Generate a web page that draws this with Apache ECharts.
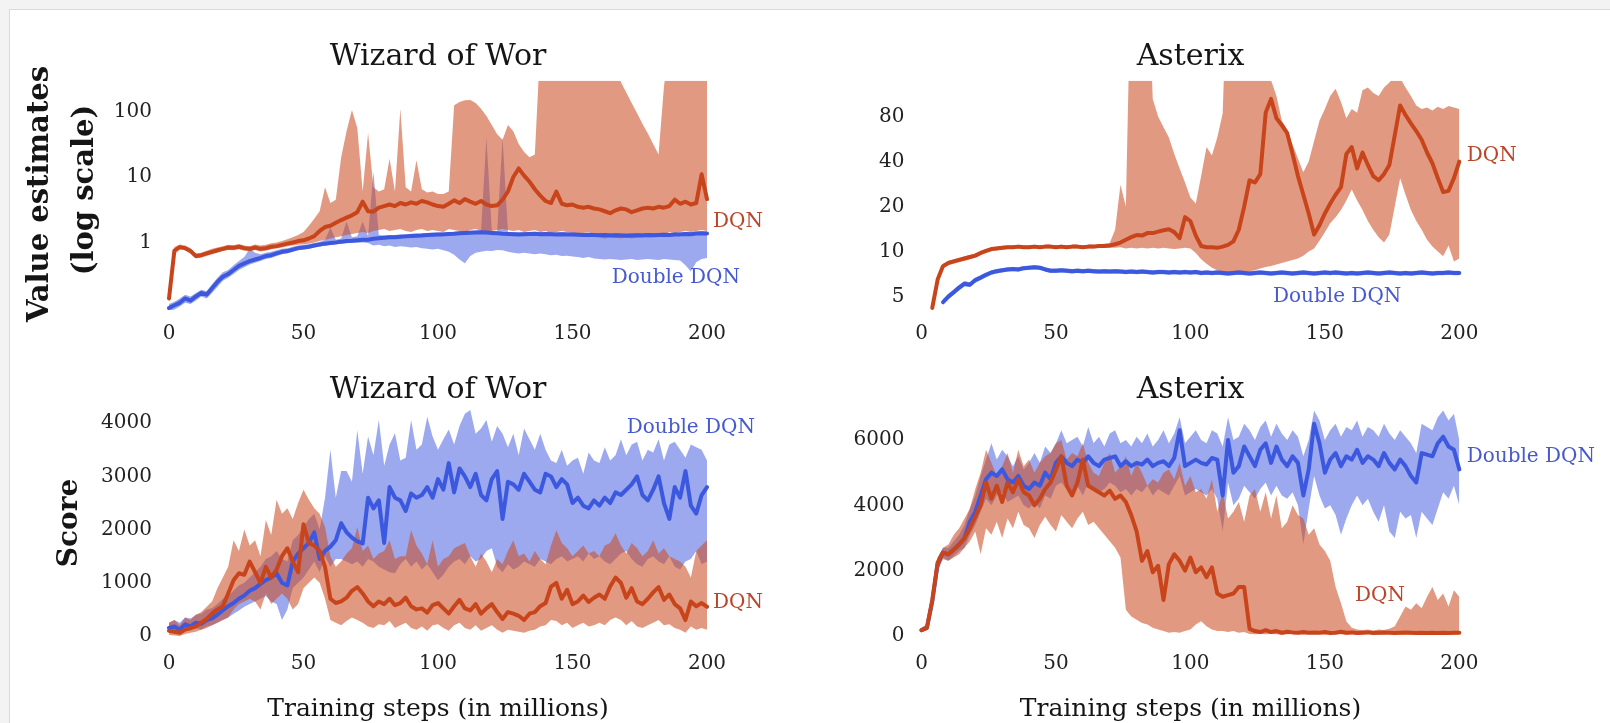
<!DOCTYPE html>
<html><head><meta charset="utf-8">
<script src="https://cdn.jsdelivr.net/npm/echarts@6.0.0/dist/echarts.min.js"></script>
<style>html,body{margin:0;padding:0;background:#f3f3f3;} #c{width:1610px;height:723px;}</style>
</head><body><div id="c"></div>
<script>
// ---------------- data ----------------
const steps = [0,2,4,6,8,10,12,14,16,18,20,22,24,26,28,30,32,34,36,38,40,42,44,46,48,50,52,54,56,58,60,62,64,66,68,70,72,74,76,78,80,82,84,86,88,90,92,94,96,98,100,102,104,106,108,110,112,114,116,118,120,122,124,126,128,130,132,134,136,138,140,142,144,146,148,150,152,154,156,158,160,162,164,166,168,170,172,174,176,178,180,182,184,186,188,190,192,194,196,198,200];
const xTicks = [0,50,100,150,200];
const wizValTicks = [1,10,100];
const astValTicks = [5,10,20,40,80];
const wizScoreTicks = [0,1000,2000,3000,4000];
const astScoreTicks = [0,2000,4000,6000];
const panelTitles = ['Wizard of Wor','Asterix','Wizard of Wor','Asterix'];

// Wizard of Wor – value estimates (log scale)
const wizValDqn = [0.14,0.75,0.85,0.82,0.74,0.62,0.64,0.68,0.72,0.76,
0.80,0.84,0.83,0.86,0.82,0.80,0.84,0.80,0.82,0.86,
0.88,0.92,0.96,1.00,1.05,1.08,1.15,1.25,1.50,1.72,
1.80,2.00,2.20,2.40,2.60,2.90,4.20,3.00,2.95,3.40,
3.60,3.80,3.60,4.00,3.80,4.10,3.90,4.30,4.10,3.80,
3.60,3.50,3.90,4.40,4.00,4.60,4.20,3.90,4.30,3.80,
3.60,3.70,4.50,6.00,10.0,13.5,10.5,8.50,6.50,5.20,
4.30,4.00,6.00,3.90,3.70,3.80,3.50,3.40,3.50,3.30,
3.20,3.00,2.80,3.10,3.30,3.20,2.90,3.10,3.30,3.40,
3.30,3.50,3.40,3.60,4.50,3.90,4.20,3.80,4.00,11.0,
4.60];
const wizValDqnLo = [0.12,0.66,0.78,0.76,0.68,0.57,0.59,0.62,0.66,0.70,
0.74,0.77,0.76,0.79,0.75,0.73,0.77,0.73,0.75,0.79,
0.81,0.84,0.88,0.90,0.92,0.94,0.96,1.00,1.05,1.10,
1.15,1.20,1.25,1.30,1.35,1.40,1.45,1.40,1.50,1.55,
1.60,1.50,1.55,1.60,1.50,1.45,1.55,1.60,1.50,1.55,
1.50,1.45,1.60,1.55,1.50,1.45,1.55,1.60,1.50,1.45,
1.50,1.55,1.60,1.55,1.50,1.55,1.45,1.50,1.55,1.45,
1.50,1.40,1.45,1.50,1.45,1.40,1.35,1.40,1.45,1.35,
1.20,1.15,1.20,1.18,1.15,1.20,1.15,1.20,1.22,1.20,
1.20,1.22,1.25,1.45,1.40,1.45,1.50,1.45,1.50,1.55,
1.50];
const wizValDqnHi = [0.16,0.85,0.93,0.90,0.82,0.68,0.70,0.75,0.80,0.84,
0.88,0.92,0.91,0.95,0.90,0.88,0.93,0.90,0.92,0.97,
1.00,1.05,1.12,1.20,1.30,1.45,1.80,2.30,3.00,7.00,
4.00,4.50,20.0,50.0,105,56.0,6.00,47.0,7.00,6.00,
6.50,19.0,6.00,110,7.00,6.00,18.0,6.50,5.80,6.00,
5.50,5.50,6.00,125,140,148,150,135,110,85.0,
62.0,45.0,37.0,62.0,50.0,32.0,24.0,20.0,22.0,1000,
1000,1000,1000,1000,1000,1000,1000,1000,1000,1000,
1000,1000,1000,1000,280,194,135,94.0,65.0,46.0,
32.0,22.0,240,1000,1000,1000,1000,1000,1000,1000,
1000];
const wizValDdqn = [0.10,0.11,0.12,0.14,0.13,0.15,0.17,0.16,0.20,0.25,
0.30,0.33,0.38,0.44,0.48,0.52,0.55,0.58,0.62,0.64,
0.68,0.72,0.74,0.78,0.82,0.84,0.86,0.90,0.93,0.96,
0.98,1.00,1.03,1.05,1.06,1.08,1.10,1.10,1.14,1.16,
1.18,1.20,1.20,1.22,1.24,1.26,1.27,1.28,1.30,1.31,
1.32,1.33,1.35,1.36,1.38,1.40,1.41,1.42,1.43,1.42,
1.40,1.38,1.36,1.35,1.34,1.33,1.34,1.35,1.36,1.34,
1.35,1.34,1.33,1.34,1.33,1.32,1.31,1.30,1.31,1.30,
1.29,1.30,1.28,1.29,1.28,1.27,1.28,1.29,1.28,1.30,
1.29,1.30,1.31,1.30,1.32,1.33,1.35,1.34,1.37,1.38,
1.37];
const wizValDdqnLo = [0.090,0.095,0.105,0.12,0.115,0.13,0.15,0.14,0.17,0.21,
0.26,0.29,0.33,0.38,0.42,0.46,0.49,0.52,0.56,0.58,
0.62,0.66,0.68,0.72,0.76,0.78,0.80,0.84,0.87,0.90,
0.92,0.94,0.96,0.97,0.98,0.99,1.00,0.98,0.90,0.92,
0.88,0.90,0.85,0.88,0.86,0.84,0.85,0.82,0.80,0.78,
0.80,0.76,0.72,0.65,0.55,0.48,0.62,0.70,0.72,0.75,
0.74,0.77,0.76,0.72,0.70,0.68,0.70,0.68,0.66,0.68,
0.66,0.64,0.65,0.62,0.63,0.61,0.60,0.58,0.60,0.57,
0.56,0.55,0.56,0.55,0.54,0.55,0.56,0.54,0.55,0.56,
0.55,0.54,0.56,0.55,0.54,0.53,0.45,0.36,0.50,0.56,
0.58];
const wizValDdqnHi = [0.115,0.125,0.14,0.16,0.15,0.17,0.19,0.18,0.23,0.29,
0.35,0.38,0.45,0.52,0.60,0.80,0.70,0.66,0.70,0.72,
0.76,0.80,0.82,0.86,0.90,0.92,0.94,0.98,1.02,1.10,
1.70,1.10,1.15,2.10,1.20,1.25,2.10,1.25,12.0,1.30,
1.28,1.30,1.30,1.32,1.34,1.36,1.37,1.38,1.40,1.41,
1.42,1.43,1.45,1.46,1.48,1.50,1.51,1.52,1.53,40.0,
1.50,1.48,40.0,1.45,1.44,1.43,1.44,1.45,1.46,1.44,
1.45,1.44,1.43,1.44,1.43,1.42,1.41,1.40,1.41,1.40,
1.39,1.40,1.38,1.39,1.38,1.37,1.38,1.39,1.38,1.40,
1.39,1.40,1.41,1.40,1.42,1.43,1.45,1.44,1.47,1.48,
1.47];

// Asterix – value estimates (log scale)
const astValDqn = [null,null,4.2,6.5,8.0,8.4,8.6,8.8,9.0,9.2,
9.4,9.8,10.1,10.4,10.5,10.6,10.7,10.7,10.8,10.7,
10.7,10.8,10.7,10.8,10.8,10.7,10.8,10.7,10.8,10.8,
10.7,10.8,10.8,10.9,10.9,11.0,11.2,11.5,12.0,12.5,
12.9,12.8,13.3,13.3,13.6,13.9,14.1,13.5,12.3,17.0,
16.0,12.8,10.9,10.7,10.7,10.6,10.8,11.1,11.7,14.0,
20.0,30.0,29.0,33.0,85.0,105,78.0,70.0,62.0,45.0,
32.0,24.0,18.0,13.0,15.0,18.0,21.0,24.0,27.0,45.0,
50.0,36.0,46.0,38.0,32.0,30.0,33.0,38.0,60.0,95.0,
82.0,72.0,64.0,56.0,46.0,39.0,31.0,25.0,25.5,31.0,
40.0];
const astValDqnLo = [null,null,4.1,6.2,7.7,8.1,8.3,8.5,8.7,8.9,
9.1,9.5,9.8,10.1,10.2,10.3,10.4,10.4,10.5,10.4,
10.4,10.5,10.4,10.5,10.5,10.4,10.5,10.4,10.5,10.5,
10.4,10.5,10.5,10.6,10.6,10.6,10.6,10.7,10.5,10.6,
10.5,10.6,10.5,10.6,10.5,10.6,10.5,10.4,10.5,10.6,
10.5,9.8,8.9,8.3,7.8,7.5,7.3,7.2,7.2,7.3,
7.35,7.4,7.5,7.7,7.9,8.0,8.2,8.4,8.6,8.8,
9.0,9.4,10.0,10.5,11.8,13.5,15.5,17.0,19.0,22.0,
26.0,22.0,19.0,16.0,14.0,12.5,11.5,13.0,20.0,31.0,
24.0,19.0,16.0,14.0,12.0,10.8,10.0,9.3,11.0,8.6,
9.0];
const astValDqnHi = [null,null,4.4,6.8,8.3,8.7,8.9,9.1,9.3,9.5,
9.7,10.1,10.4,10.7,10.8,10.9,11.0,11.0,11.1,11.0,
11.0,11.1,11.0,11.1,11.1,11.0,11.1,11.0,11.1,11.1,
11.0,11.1,11.1,11.2,11.3,11.4,14.0,28.0,20.0,1000,
1000,1000,1000,105,80.0,68.0,58.0,45.0,36.0,29.0,
23.0,21.0,32.0,50.0,44.0,58.0,84.0,1000,1000,1000,
1000,1000,1000,1000,1000,140,110,75.0,65.0,52.0,
42.0,34.0,40.0,55.0,75.0,90.0,110,123,100,78.0,
90.0,85.0,120,125,115,110,125,135,150,145,
125,110,95.0,90.0,92.0,88.0,93.0,90.0,94.0,92.0,
90.0];
const astValDdqn = [null,null,null,null,4.6,5.0,5.35,5.75,6.1,6.0,
6.45,6.7,7.0,7.25,7.4,7.5,7.6,7.65,7.6,7.75,
7.8,7.85,7.8,7.6,7.45,7.45,7.5,7.45,7.4,7.45,
7.4,7.45,7.4,7.35,7.4,7.35,7.4,7.35,7.3,7.35,
7.3,7.35,7.3,7.25,7.3,7.3,7.25,7.3,7.25,7.3,
7.25,7.3,7.2,7.25,7.2,7.25,7.2,7.15,7.2,7.25,
7.2,7.15,7.2,7.25,7.2,7.15,7.2,7.25,7.2,7.15,
7.2,7.25,7.2,7.15,7.2,7.25,7.2,7.25,7.2,7.15,
7.2,7.15,7.2,7.25,7.2,7.15,7.2,7.25,7.2,7.15,
7.2,7.15,7.2,7.25,7.2,7.15,7.2,7.2,7.25,7.2,
7.2];
const astValDdqnLo = [null,null,null,null,4.4,4.8,5.15,5.5,5.85,5.8,
6.2,6.45,6.75,7.0,7.15,7.25,7.35,7.4,7.35,7.5,
7.55,7.6,7.55,7.35,7.2,7.2,7.25,7.2,7.15,7.2,
7.15,7.2,7.15,7.1,7.15,7.1,7.15,7.1,7.05,7.1,
7.05,7.1,7.05,7.0,7.05,7.05,7.0,7.05,7.0,7.05,
7.0,7.05,6.95,7.0,6.95,7.0,6.95,6.9,6.95,7.0,
6.95,6.9,6.95,7.0,6.95,6.9,6.95,7.0,6.95,6.9,
6.95,7.0,6.95,6.9,6.95,7.0,6.95,7.0,6.95,6.9,
6.95,6.9,6.95,7.0,6.95,6.9,6.95,7.0,6.95,6.9,
6.95,6.9,6.95,7.0,6.95,6.9,6.95,6.95,7.0,6.95,
6.95];
const astValDdqnHi = [null,null,null,null,4.8,5.25,5.6,6.0,6.35,6.25,
6.7,6.95,7.25,7.5,7.65,7.75,7.85,7.9,7.85,8.0,
8.05,8.1,8.05,7.85,7.7,7.7,7.75,7.7,7.65,7.7,
7.65,7.7,7.65,7.6,7.65,7.6,7.65,7.6,7.55,7.6,
7.55,7.6,7.55,7.5,7.55,7.55,7.5,7.55,7.5,7.55,
7.5,7.55,7.45,7.5,7.45,7.5,7.45,7.4,7.45,7.5,
7.45,7.4,7.45,7.5,7.45,7.4,7.45,7.5,7.45,7.4,
7.45,7.5,7.45,7.4,7.45,7.5,7.45,7.5,7.45,7.4,
7.45,7.4,7.45,7.5,7.45,7.4,7.45,7.5,7.45,7.4,
7.45,7.4,7.45,7.5,7.45,7.4,7.45,7.45,7.5,7.45,
7.45];

// Wizard of Wor – score
const wizScoreDdqn = [150,180,120,220,180,250,230,300,330,400,
480,560,620,700,760,850,900,980,1050,1100,
1180,1000,950,1400,1550,1650,1750,1950,1450,1600,
1680,1800,2120,1950,1850,1780,1740,2600,2400,2550,
1750,2800,2600,2550,2350,2680,2600,2650,2800,2600,
2950,2750,3250,2700,3150,3000,2800,3050,2650,2550,
2950,3100,2200,2900,2850,2750,3050,2900,2750,2700,
3050,3000,2800,2950,2850,2500,2600,2450,2400,2550,
2450,2600,2500,2700,2650,2750,2850,3000,2650,2550,
2750,3000,2500,2200,2800,2600,3100,2450,2300,2650,
2800];
const wizScoreDdqnLo = [80,100,60,120,100,150,120,180,200,250,
300,350,420,480,550,600,650,700,750,650,
600,300,500,900,1000,1100,1250,1400,1200,1500,
1300,1450,1450,1400,1350,1400,1300,1450,1400,1300,
1250,1200,1180,1350,1450,1300,1400,1250,1350,1200,
1050,1150,1300,1400,1450,1350,1500,1400,1450,1600,
1650,1300,1200,1350,1250,1300,1400,1350,1300,1450,
1400,1350,1450,1500,1400,1450,1500,1400,1550,1450,
1500,1400,1350,1450,1550,1600,1450,1350,1300,1450,
1500,1400,1350,1500,1300,1250,1400,1450,1600,1350,
1400];
const wizScoreDdqnHi = [250,300,250,350,330,400,420,500,520,600,
700,750,850,950,1000,1100,1200,1300,1450,1500,
1600,1450,1400,1800,1900,2050,2200,2300,2000,2600,
3500,2600,3100,3100,2900,3870,3050,3750,3400,4060,
3200,3600,3810,3300,3350,4060,3500,3600,4120,3750,
3500,3700,3880,3600,3950,4180,4250,3800,3900,4060,
3650,3950,3800,3550,3800,3400,3900,3700,3500,3800,
3500,3300,3250,3500,3200,3300,3350,3050,3450,3300,
3250,3550,3300,3400,3700,3400,3600,3650,3300,3500,
3450,3700,3300,3600,3650,3500,3350,3600,3550,3500,
3300];
const wizScoreDqn = [100,80,60,120,150,180,250,320,420,500,
560,800,1050,1180,1150,1400,1200,1000,1300,1100,
1250,1500,1650,1400,1200,2100,1750,1700,1600,1300,
700,620,650,720,850,920,800,650,560,650,
600,700,580,620,720,560,500,520,440,580,
620,520,420,560,680,520,480,600,420,520,
600,450,320,450,420,380,300,420,450,560,
620,930,1000,700,870,600,650,760,640,720,
780,700,930,1100,1000,720,900,650,600,700,
820,920,680,780,600,520,300,650,560,620,
550];
const wizScoreDqnLo = [20,10,0,40,60,80,120,150,200,250,
300,350,500,600,650,700,650,500,800,600,
700,800,700,500,600,900,1000,1100,1000,700,
300,250,200,280,350,300,250,180,150,220,
200,280,150,200,250,150,120,180,100,200,
220,150,100,200,250,150,120,200,100,150,
200,120,60,120,100,80,60,100,120,180,
200,300,280,200,250,150,200,250,180,200,
250,200,300,350,300,200,280,180,150,200,
250,300,200,220,150,120,60,180,120,150,
120];
const wizScoreDqnHi = [250,300,200,350,300,400,450,550,650,900,
1100,1300,1800,1600,2000,1700,1800,1500,2180,1900,
2560,2300,2400,2200,2500,2750,2560,2400,2300,2050,
1500,1300,1400,1550,1650,2050,1600,1700,1450,1550,
1600,1800,1450,1500,1500,1990,1700,1550,1350,1800,
1300,1450,1500,1650,1700,1750,1500,1300,1550,1400,
1200,1450,1350,1600,1800,1500,1550,1400,1600,1450,
1350,1700,1990,1750,1650,1500,1600,1700,1550,1600,
1500,1700,1750,1930,1700,1550,1750,1650,1500,1600,
1800,1550,1650,1500,1450,1400,1300,1100,1600,1700,
1800];

// Asterix – score
const astScoreDqn = [180,250,1100,2250,2550,2500,2650,2800,3000,3300,
3650,4000,4700,4200,4600,4100,4700,4400,4800,4400,
4300,4000,4200,4500,4700,5100,5500,4600,4300,4700,
5400,4600,4500,4400,4300,4450,4200,4300,4100,3700,
3200,2300,2600,1950,2150,1100,2200,2500,2300,2000,
2400,1950,2100,1800,2100,1300,1200,1250,1300,1500,
1500,220,150,120,180,120,150,100,130,110,
100,120,100,110,100,120,90,100,130,100,
110,90,100,110,90,100,110,100,90,100,
110,100,90,100,95,100,90,100,95,100,
100];
const astScoreDqnLo = [120,180,900,2000,2350,2300,2400,2500,2700,2900,
3200,2500,3300,3100,3500,3000,3600,3300,3800,3400,
3300,3000,3400,3650,3400,3200,3700,3500,3300,3600,
3800,3400,3500,3300,3100,2900,2700,2400,800,600,
500,400,350,250,200,150,100,120,100,150,
200,350,450,300,200,150,150,120,150,100,
120,60,50,60,50,60,50,40,50,60,
50,40,50,60,50,40,50,60,50,40,
50,40,50,60,50,40,50,60,50,40,
50,40,50,60,50,40,50,60,50,40,
50];
const astScoreDqnHi = [250,350,1300,2400,2700,2800,3100,3300,3600,3900,
4500,5000,5700,5300,4900,5200,5600,5000,5700,5200,
5400,5000,5300,5500,5600,5900,6000,5400,5600,5500,
5900,5300,5000,4900,5300,5600,5000,5200,5500,4900,
5300,5000,4600,4800,4700,5000,5100,4800,5300,4600,
4900,4400,4500,4200,4800,3800,4400,3600,3800,4100,
3500,4300,4500,3800,4400,3600,4300,3300,3500,4000,
3700,3600,3100,3300,2800,2600,2300,1500,1000,450,
250,200,180,200,170,200,180,220,300,600,
900,800,1000,850,1200,1500,1100,1300,900,1400,
1200];
const astScoreDdqn = [180,250,1050,2200,2550,2500,2650,2800,3000,3500,
3800,4300,4800,5000,4900,5100,4800,4700,4900,4600,
4500,4700,4600,5000,4800,5300,5500,5300,5200,5400,
5300,5500,5300,5200,5400,5450,5500,5200,5350,5200,
5300,5250,5400,5200,5300,5350,5200,5450,6300,5200,
5300,5400,5300,5250,5450,5400,4300,6000,5000,5200,
5800,5500,5200,5700,5900,5300,5800,5400,5200,5500,
5300,4300,5100,6500,5900,5000,5400,5600,5200,5500,
5400,5700,5300,5500,5400,5200,5600,5300,5100,5400,
5200,4900,4700,5600,5550,5500,5900,6100,5800,5700,
5100];
const astScoreDdqnLo = [120,180,900,2000,2400,2300,2450,2600,2700,3100,
3400,3800,4200,4000,4300,4400,4100,4200,4300,4000,
3900,4100,3900,4300,4200,4600,4700,4500,4400,4600,
4300,4700,4500,4400,4500,4700,4600,4400,4500,4300,
4500,4400,4600,4300,4500,4400,4300,4600,4900,4300,
4400,4500,4400,4300,4500,4200,3200,4700,4000,4200,
4600,4400,4200,4500,4700,4300,4600,4300,4200,4400,
4000,2800,3900,4900,4300,3900,4000,3700,3100,3600,
4000,4300,4000,4200,3800,3500,4000,3200,3000,3800,
3600,3700,3000,3800,3600,3400,3900,4400,4200,4600,
4000];
const astScoreDdqnHi = [250,350,1300,2400,2700,2700,2900,3100,3400,3900,
4300,4900,5400,5900,5400,5700,5500,5200,5500,5100,
5300,5600,5300,5800,5600,5900,6300,5900,6000,6100,
5800,6400,5900,6100,5800,6200,6300,5900,6000,5800,
6100,5900,6200,5800,6000,6300,5900,6200,6700,5900,
6100,6300,6000,5900,6300,6200,5800,6700,6000,6100,
6500,6300,6000,6400,6600,6100,6500,6200,6000,6300,
6100,5500,6000,6900,6600,6000,6300,6500,6100,6400,
6300,6600,6100,6400,6300,6100,6500,6200,6000,6300,
6100,5900,5600,6500,6400,6300,6700,6900,6600,6800,
6000];

// ---------------- sanity ----------------
const allArrays = {wizValDqn,wizValDqnLo,wizValDqnHi,wizValDdqn,wizValDdqnLo,wizValDdqnHi,
  astValDqn,astValDqnLo,astValDqnHi,astValDdqn,astValDdqnLo,astValDdqnHi,
  wizScoreDdqn,wizScoreDdqnLo,wizScoreDdqnHi,wizScoreDqn,wizScoreDqnLo,wizScoreDqnHi,
  astScoreDqn,astScoreDqnLo,astScoreDqnHi,astScoreDdqn,astScoreDdqnLo,astScoreDdqnHi};
for (const k in allArrays) { if (allArrays[k].length !== steps.length) console.error('length mismatch', k, allArrays[k].length); }

// ---------------- style ----------------
const SERIF = '"DejaVu Serif", "Liberation Serif", serif';
const DQN_LINE = '#c8451b';
const DDQN_LINE = '#3c58de';
const DQN_FILL = 'rgba(204,76,36,0.57)';
const DDQN_FILL = 'rgba(66,90,222,0.52)';
const DQN_TEXT = '#b9452b';
const DDQN_TEXT = '#4759cf';
const TICK_COLOR = '#222';

const pairs = arr => steps.map((s, i) => [s, arr[i]]);

// shaded band between lo and hi, drawn as one polygon per continuous run,
// every vertex placed through the series' own axes (api.coord)
function band(id, idx, lo, hi, color, z) {
  let first = 0;
  while (first < steps.length && (lo[first] == null || hi[first] == null)) first++;
  return {
    type:'custom', name:id, xAxisIndex:idx.x, yAxisIndex:idx.y, z:z, silent:true, clip:true, animation:false,
    data: steps.map((s, i) => [s, lo[i], hi[i]]),
    encode: {x:0, y:[1, 2]},
    renderItem: function (params, api) {
      if (params.dataIndex !== first) return null;
      const polys = [];
      let top = [], bot = [];
      for (let i = 0; i < steps.length; i++) {
        if (lo[i] == null || hi[i] == null) {
          if (top.length > 1) polys.push(top.concat(bot.reverse()));
          top = []; bot = [];
          continue;
        }
        top.push(api.coord([steps[i], hi[i]]));
        bot.push(api.coord([steps[i], lo[i]]));
      }
      if (top.length > 1) polys.push(top.concat(bot.reverse()));
      const cs = params.coordSys;
      return {
        type:'group',
        clipPath: {type:'rect', shape:{x:cs.x, y:cs.y, width:cs.width, height:cs.height}},
        children: polys.map(pts => ({type:'polygon', shape:{points:pts}, style:{fill:color}}))
      };
    }
  };
}
function meanLine(id, idx, arr, color, z) {
  return {type:'line', name:id, xAxisIndex:idx.x, yAxisIndex:idx.y, data:pairs(arr), symbol:'none',
    lineStyle:{color:color, width:4, join:'round', cap:'round'}, silent:true, z:z, animation:false};
}

const grids = [
  {left:169, top:80.7, width:538, height:229.3},
  {left:921.5, top:80.7, width:537.8, height:229.3},
  {left:169, top:407.8, width:538, height:232.2},
  {left:921.5, top:405.7, width:537.8, height:234.2}
].map(g => Object.assign({containLabel:false, outerBoundsMode:'none', show:false}, g));

const hidden = {axisLine:{show:false}, axisTick:{show:false}, splitLine:{show:false}};
const labelStyle = {fontFamily:SERIF, fontSize:20, color:TICK_COLOR};

const xAxes = [0,1,2,3].map(i => Object.assign({
  gridIndex:i, type:'value', min:xTicks[0], max:xTicks[xTicks.length-1], interval:50,
  axisLabel:Object.assign({margin:14}, labelStyle)
}, hidden));

const wizLogMin = 0.0932, wizLogMax = 295;
const astLogMin = 4.07, astLogMax = 139;
const yAxes = [
  Object.assign({gridIndex:0, type:'log', logBase:10, min:wizLogMin, max:wizLogMax, axisLabel:{show:false}}, hidden),
  Object.assign({gridIndex:0, type:'value', position:'left', min:Math.log10(wizLogMin), max:Math.log10(wizLogMax),
    axisLabel:Object.assign({margin:17, customValues:wizValTicks.map(Math.log10),
      formatter:v => String(Math.round(Math.pow(10, v)))}, labelStyle)}, hidden),
  Object.assign({gridIndex:1, type:'log', logBase:2, min:astLogMin, max:astLogMax, axisLabel:{show:false}}, hidden),
  Object.assign({gridIndex:1, type:'value', position:'left', min:Math.log2(astLogMin), max:Math.log2(astLogMax),
    axisLabel:Object.assign({margin:17, customValues:astValTicks.map(Math.log2),
      formatter:v => String(Math.round(Math.pow(2, v)))}, labelStyle)}, hidden),
  Object.assign({gridIndex:2, type:'value', min:-75, max:4290,
    axisLabel:Object.assign({margin:17, customValues:wizScoreTicks, formatter:v => String(v)}, labelStyle)}, hidden),
  Object.assign({gridIndex:3, type:'value', min:-120, max:7050,
    axisLabel:Object.assign({margin:17, customValues:astScoreTicks, formatter:v => String(v)}, labelStyle)}, hidden)
];

const P = [{x:0,y:0},{x:1,y:2},{x:2,y:4},{x:3,y:5}];
const series = [
  band('wvB', P[0], wizValDdqnLo, wizValDdqnHi, DDQN_FILL, 1),
  band('wvR', P[0], wizValDqnLo, wizValDqnHi, DQN_FILL, 2),
  meanLine('wvBl', P[0], wizValDdqn, DDQN_LINE, 3), meanLine('wvRl', P[0], wizValDqn, DQN_LINE, 4),
  band('avB', P[1], astValDdqnLo, astValDdqnHi, DDQN_FILL, 1),
  band('avR', P[1], astValDqnLo, astValDqnHi, DQN_FILL, 2),
  meanLine('avBl', P[1], astValDdqn, DDQN_LINE, 3), meanLine('avRl', P[1], astValDqn, DQN_LINE, 4),
  band('wsB', P[2], wizScoreDdqnLo, wizScoreDdqnHi, DDQN_FILL, 1),
  band('wsR', P[2], wizScoreDqnLo, wizScoreDqnHi, DQN_FILL, 2),
  meanLine('wsBl', P[2], wizScoreDdqn, DDQN_LINE, 3), meanLine('wsRl', P[2], wizScoreDqn, DQN_LINE, 4),
  band('asB', P[3], astScoreDdqnLo, astScoreDdqnHi, DDQN_FILL, 1),
  band('asR', P[3], astScoreDqnLo, astScoreDqnHi, DQN_FILL, 2),
  meanLine('asBl', P[3], astScoreDdqn, DDQN_LINE, 3), meanLine('asRl', P[3], astScoreDqn, DQN_LINE, 4)
];

function txt(x, y, text, font, color, align, rot) {
  return {type:'text', x:x, y:y, rotation:rot || 0, silent:true, z:100,
    style:{text:text, font:font, fill:color, textAlign:align || 'center', textVerticalAlign:'middle',
           align:align || 'center', verticalAlign:'middle'}};
}
const titleFont = '30px ' + SERIF;
const annFont = '20px ' + SERIF;
const axFont = '25px ' + SERIF;
const yFont = 'bold 29px ' + SERIF;
const yFontScore = 'bold 28px ' + SERIF;
const graphics = [
  {type:'rect', shape:{x:9.5, y:9.5, width:1620, height:740}, style:{fill:'#ffffff', stroke:'#d9d9d9', lineWidth:1}, z:-10, silent:true},
  txt(438, 57.5, panelTitles[0], titleFont, '#151515'),
  txt(1190.5, 57.5, panelTitles[1], titleFont, '#151515'),
  txt(438, 390, panelTitles[2], titleFont, '#151515'),
  txt(1190.5, 390, panelTitles[3], titleFont, '#151515'),
  txt(438, 709, 'Training steps (in millions)', axFont, '#151515'),
  txt(1190.5, 709, 'Training steps (in millions)', axFont, '#151515'),
  txt(40, 194, 'Value estimates', yFont, '#151515', 'center', Math.PI/2),
  txt(85, 190, '(log scale)', yFont, '#151515', 'center', Math.PI/2),
  txt(70, 523, 'Score', yFontScore, '#151515', 'center', Math.PI/2),
  txt(713, 222, 'DQN', annFont, DQN_TEXT, 'left'),
  txt(611.7, 278, 'Double DQN', annFont, DDQN_TEXT, 'left'),
  txt(1466.7, 156, 'DQN', annFont, DQN_TEXT, 'left'),
  txt(1273, 297, 'Double DQN', annFont, DDQN_TEXT, 'left'),
  txt(626.7, 428, 'Double DQN', annFont, DDQN_TEXT, 'left'),
  txt(713, 603, 'DQN', annFont, DQN_TEXT, 'left'),
  txt(1466.7, 457, 'Double DQN', annFont, DDQN_TEXT, 'left'),
  txt(1355, 596, 'DQN', annFont, DQN_TEXT, 'left')
];

const chart = echarts.init(document.getElementById('c'), null, {renderer:'canvas'});
chart.setOption({
  animation:false,
  backgroundColor:'#f3f3f3',
  grid:grids,
  xAxis:xAxes,
  yAxis:yAxes,
  series:series,
  graphic:graphics
});
</script></body></html>
